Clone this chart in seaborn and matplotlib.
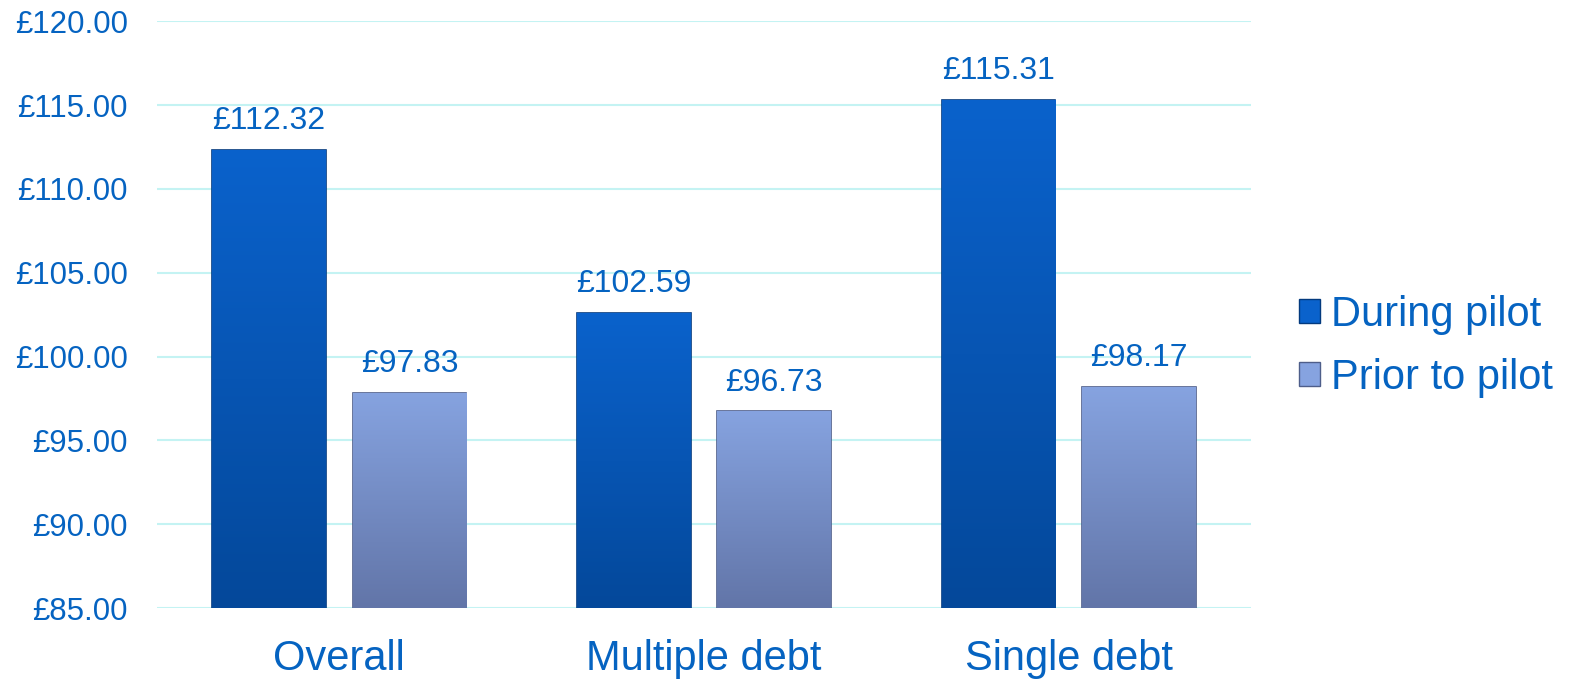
import numpy as np
import pandas as pd
import matplotlib
matplotlib.use("Agg")
import matplotlib.pyplot as plt
import seaborn as sns
from matplotlib.patches import Patch

categories = ["Overall", "Multiple debt", "Single debt"]
periods = ["During pilot", "Prior to pilot"]
during = [112.32, 102.59, 115.31]
prior = [97.83, 96.73, 98.17]
yticks = [85, 90, 95, 100, 105, 110, 115, 120]

text_col = "#0563C1"
bar_top = {"During pilot": "#0A62CC", "Prior to pilot": "#86A3E0"}
bar_bot = {"During pilot": "#04489A", "Prior to pilot": "#6275A8"}
edge_col = {"During pilot": "#033A7E", "Prior to pilot": "#4E5E8A"}


def main():
    df = pd.DataFrame({
        "category": categories * 2,
        "period": [periods[0]] * 3 + [periods[1]] * 3,
        "value": during + prior,
    })

    sns.set_style("white")
    plt.rcParams["font.family"] = ["Liberation Sans", "DejaVu Sans"]

    fig = plt.figure(figsize=(15.73, 6.84), dpi=100)
    ax = fig.add_axes([0.0998, 0.111, 0.6955, 0.858])

    sns.barplot(data=df, x="category", y="value", hue="period",
                hue_order=periods, order=categories,
                palette=[bar_top[p] for p in periods],
                width=0.77, gap=0.19, ax=ax, legend=False, zorder=3)

    ax.set_ylim(85, 120)
    ax.set_xlim(-0.5, 2.5)

    # vertical gradient on every bar, clipped to the bar itself
    for container, p in zip(ax.containers, periods):
        for bar, val in zip(container, df[df.period == p].value):
            x0, w = bar.get_x(), bar.get_width()
            top = bar.get_y() + bar.get_height()
            grad = np.linspace(0, 1, 256).reshape(-1, 1)
            cmap = matplotlib.colors.LinearSegmentedColormap.from_list(
                "g", [bar_bot[p], bar_top[p]])
            im = ax.imshow(grad, cmap=cmap, aspect="auto", origin="lower",
                           extent=[x0, x0 + w, 85, top], zorder=3.5)
            im.set_clip_path(bar)
            bar.set_edgecolor(edge_col[p])
            bar.set_linewidth(1.2)
            ax.annotate(f"£{val:.2f}", (x0 + w / 2, top), xytext=(0, 10),
                        textcoords="offset points", ha="center", va="bottom",
                        fontsize=23, color=text_col)
    ax.set_xlim(-0.5, 2.5)
    ax.set_ylim(85, 120)

    ax.set_yticks(yticks)
    ax.set_yticklabels([f"£{t:.2f}" for t in yticks])
    ax.yaxis.grid(True, color="#C4F3F3", linewidth=1.5, zorder=0)
    ax.set_axisbelow(True)
    ax.tick_params(axis="y", labelsize=22.5, labelcolor=text_col, length=0, pad=21)
    ax.tick_params(axis="x", labelsize=30, labelcolor=text_col, length=0, pad=22)
    ax.set_xlabel("")
    ax.set_ylabel("")
    sns.despine(ax=ax, left=True, bottom=True)

    handles = [Patch(facecolor=bar_top[p], edgecolor=edge_col[p]) for p in periods]
    fig.legend(handles, periods, loc="center left", bbox_to_anchor=(0.826, 0.494),
               frameon=False, fontsize=30, labelcolor=text_col,
               handlelength=0.5, handleheight=0.5, handletextpad=0.25,
               labelspacing=0.55, borderaxespad=0, borderpad=0)

    fig.savefig("out.png", dpi=100)
    plt.close(fig)


if __name__ == "__main__":
    main()
